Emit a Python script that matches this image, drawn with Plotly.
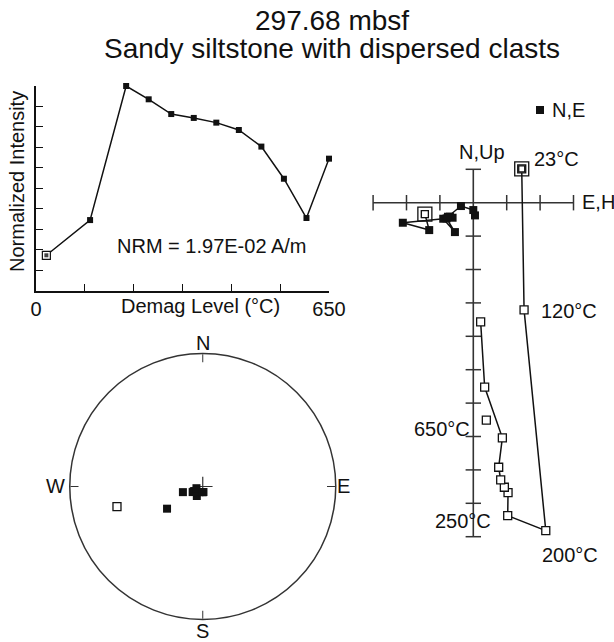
import math
import plotly.graph_objects as go

W, H = 614, 642
FONT = "Liberation Sans, Arial, Helvetica, sans-serif"
INK = "#111111"
AXC = "#333333"

# ---------------- data ----------------
temps = [23, 120, 200, 250, 300, 350, 400, 450, 500, 550, 600, 650]
norm_intensity = [0.173, 0.345, 1.0, 0.935, 0.863, 0.844, 0.821, 0.785, 0.704, 0.547, 0.355, 0.645]

# Zijderveld plot (units of one axis tick)
east = [-1.45, -1.32, -2.11, -0.90, -0.55, -0.80, -0.70, -0.62, -0.76, -0.37, 0.00, 0.05]
north = [-0.34, -0.82, -0.60, -0.48, -0.88, -0.47, -0.42, -0.45, -0.42, -0.10, -0.22, -0.38]
horiz = [1.45, 1.52, 2.17, 1.03, 1.04, 0.93, 0.82, 0.76, 0.87, 0.34, 0.22, 0.39]
up = [1.01, -3.21, -9.82, -9.37, -8.68, -8.52, -8.30, -7.92, -7.04, -5.52, -3.57, -6.51]

zij_labels = {23: "23°C", 120: "120°C", 200: "200°C", 250: "250°C", 650: "650°C"}

h_ticks = [-3, -2, -1, 1, 2, 3]
v_ticks = [-10, -9, -8, -7, -6, -5, -4, -3, -2, -1, 1]
demag_tickvals = [0, 650 / 6, 2 * 650 / 6, 3 * 650 / 6, 4 * 650 / 6, 5 * 650 / 6, 650]
demag_ticktext = ["0", "", "", "", "", "", "650"]
int_tickvals = [0.1, 0.2, 0.3, 0.4, 0.5, 0.6, 0.7, 0.8, 0.9, 1.0]
compass = ["N", "E", "S", "W"]

# stereonet: direction of each step, equal-area projection radius
dec = [math.degrees(math.atan2(e, n)) % 360 for e, n in zip(east, north)]
inc = [math.degrees(math.atan2(-u, math.hypot(e, n))) for e, n, u in zip(east, north, up)]
r_ea = [math.sqrt(2) * math.sin(math.radians(90 - abs(i)) / 2) for i in inc]


def px(x, y):
    return x / W, 1 - y / H


fig = go.Figure()

# ---------------- intensity plot ----------------
fig.add_trace(go.Scatter(x=temps, y=norm_intensity, mode="lines+markers",
                         line=dict(color=INK, width=1.5),
                         marker=dict(symbol="square", size=6, color=INK),
                         cliponaxis=False, xaxis="x", yaxis="y", showlegend=False))
fig.add_trace(go.Scatter(x=temps[:1], y=norm_intensity[:1], mode="markers",
                         marker=dict(symbol="square", size=8, color="white",
                                     line=dict(color=INK, width=1.2)),
                         cliponaxis=False, xaxis="x", yaxis="y", showlegend=False))
fig.add_trace(go.Scatter(x=temps[:1], y=norm_intensity[:1], mode="markers",
                         marker=dict(symbol="square", size=4, color="#444444"),
                         cliponaxis=False, xaxis="x", yaxis="y", showlegend=False))

# ---------------- Zijderveld plot ----------------
ox, oy, S = 473.3, 202.7, 33.4
zx0, zx1, zy0, zy1 = 345, 614, 90, 575
fig.add_trace(go.Scatter(x=[h_ticks[0], h_ticks[-1]], y=[0, 0], mode="lines",
                         line=dict(color=AXC, width=1.6), xaxis="x2", yaxis="y2", showlegend=False))
fig.add_trace(go.Scatter(x=[0, 0], y=[v_ticks[0], v_ticks[-1]], mode="lines",
                         line=dict(color=AXC, width=1.6), xaxis="x2", yaxis="y2", showlegend=False))
fig.add_trace(go.Scatter(x=h_ticks, y=[0] * len(h_ticks), mode="markers",
                         marker=dict(symbol="line-ns", size=11, line=dict(color=AXC, width=1.5)),
                         xaxis="x2", yaxis="y2", showlegend=False))
fig.add_trace(go.Scatter(x=[0] * len(v_ticks), y=v_ticks, mode="markers",
                         marker=dict(symbol="line-ew", size=11, line=dict(color=AXC, width=1.5)),
                         xaxis="x2", yaxis="y2", showlegend=False))

# horizontal projection (N vs E) - solid squares
fig.add_trace(go.Scatter(x=east[:-1], y=north[:-1], mode="lines",
                         line=dict(color=INK, width=1.5), xaxis="x2", yaxis="y2", showlegend=False))
fig.add_trace(go.Scatter(x=east, y=north, mode="markers",
                         marker=dict(symbol="square", size=8, color=INK),
                         xaxis="x2", yaxis="y2", showlegend=False))
# vertical projection (Up vs H) - open squares
fig.add_trace(go.Scatter(x=horiz[:-1], y=up[:-1], mode="lines",
                         line=dict(color=INK, width=1.5), xaxis="x2", yaxis="y2", showlegend=False))
fig.add_trace(go.Scatter(x=horiz, y=up, mode="markers",
                         marker=dict(symbol="square", size=8, color="white",
                                     line=dict(color=INK, width=1.3)),
                         xaxis="x2", yaxis="y2", showlegend=False))
# first step highlight
fig.add_trace(go.Scatter(x=[east[0], horiz[0]], y=[north[0], up[0]], mode="markers",
                         marker=dict(symbol="square-open", size=14, color=INK,
                                     line=dict(color=INK, width=1.3)),
                         xaxis="x2", yaxis="y2", showlegend=False))
fig.add_trace(go.Scatter(x=[east[0]], y=[north[0]], mode="markers",
                         marker=dict(symbol="square", size=7, color="white",
                                     line=dict(color=INK, width=1.3)),
                         xaxis="x2", yaxis="y2", showlegend=False))
fig.add_trace(go.Scatter(x=[horiz[0]], y=[up[0]], mode="markers",
                         marker=dict(symbol="square", size=6, color="white",
                                     line=dict(color=INK, width=1.3)),
                         xaxis="x2", yaxis="y2", showlegend=False))
# legend marker "N,E"
fig.add_trace(go.Scatter(x=[(540 - ox) / S], y=[(oy - 110) / S], mode="markers",
                         marker=dict(symbol="square", size=8, color=INK),
                         xaxis="x2", yaxis="y2", showlegend=False))

# ---------------- stereonet ----------------
fig.add_trace(go.Scatterpolar(r=[0], theta=[0], mode="markers",
                              marker=dict(symbol="cross-thin", size=14,
                                          line=dict(color=AXC, width=1.2)),
                              subplot="polar", showlegend=False))
low_r = [r for r, i in zip(r_ea, inc) if i >= 0]
low_t = [d for d, i in zip(dec, inc) if i >= 0]
up_r = [r for r, i in zip(r_ea, inc) if i < 0]
up_t = [d for d, i in zip(dec, inc) if i < 0]
fig.add_trace(go.Scatterpolar(r=low_r, theta=low_t, mode="markers",
                              marker=dict(symbol="square", size=8, color=INK),
                              subplot="polar", showlegend=False))
fig.add_trace(go.Scatterpolar(r=up_r, theta=up_t, mode="markers",
                              marker=dict(symbol="square", size=8, color="white",
                                          line=dict(color=INK, width=1.3)),
                              subplot="polar", showlegend=False))

# ---------------- layout ----------------
ann = []


def add_text(text, x, y, size=20, xanchor="center", yanchor="middle", angle=0):
    pxx, pyy = px(x, y)
    ann.append(dict(text=text, x=pxx, y=pyy, xref="paper", yref="paper", showarrow=False,
                    xanchor=xanchor, yanchor=yanchor, textangle=angle,
                    font=dict(family=FONT, size=size, color=INK)))


add_text("297.68 mbsf", 332, 21, size=28)
add_text("Sandy siltstone with dispersed clasts", 332, 48, size=28)
add_text("Normalized Intensity", 17, 182, angle=-90)
add_text("NRM = 1.97E-02 A/m", 212, 246)
add_text("Demag Level (°C)", 200, 306)
add_text("N,Up", 457, 152, xanchor="left")
add_text("N,E", 550, 110, xanchor="left")
add_text("E,H", 580, 202, xanchor="left")
add_text(zij_labels[23], 532, 159, xanchor="left")
add_text(zij_labels[120], 539, 311, xanchor="left")
add_text(zij_labels[650], 472, 429, xanchor="right")
add_text(zij_labels[250], 433, 521, xanchor="left")
add_text(zij_labels[200], 540, 555, xanchor="left")
# compass letters around the stereonet
add_text(compass[0], 202.7, 343)
add_text(compass[1], 343, 486)
add_text(compass[2], 202.7, 631)
add_text(compass[3], 55, 486)

fig.update_layout(
    width=W, height=H, autosize=False,
    margin=dict(l=0, r=0, t=0, b=0, pad=0, autoexpand=False),
    paper_bgcolor="white", plot_bgcolor="white",
    font=dict(family=FONT, size=20, color=INK),
    annotations=ann,
    xaxis=dict(domain=[36 / W, 329 / W], range=[0, 650], tickmode="array",
               tickvals=demag_tickvals, ticktext=demag_ticktext, automargin=False,
               ticks="inside", ticklen=7, tickwidth=1.3, tickcolor=INK,
               showline=True, linecolor=INK, linewidth=1.5, showgrid=False, zeroline=False,
               tickfont=dict(size=20, family=FONT, color=INK)),
    yaxis=dict(domain=[1 - 290.7 / H, 1 - 86 / H], range=[0, 1], tickmode="array",
               tickvals=int_tickvals, showticklabels=False, automargin=False,
               ticks="inside", ticklen=7, tickwidth=1.3, tickcolor=INK,
               showline=True, linecolor=INK, linewidth=1.5, showgrid=False, zeroline=False),
    xaxis2=dict(domain=[zx0 / W, zx1 / W], range=[(zx0 - ox) / S, (zx1 - ox) / S],
                visible=False, anchor="y2", automargin=False),
    yaxis2=dict(domain=[1 - zy1 / H, 1 - zy0 / H], range=[(oy - zy1) / S, (oy - zy0) / S],
                visible=False, anchor="x2", automargin=False),
    polar=dict(
        domain=dict(x=[69.5 / W, 336 / W], y=[1 - 619.5 / H, 1 - 353.5 / H]),
        bgcolor="white",
        radialaxis=dict(visible=False, range=[0, 1]),
        angularaxis=dict(rotation=90, direction="clockwise", tickmode="array",
                         tickvals=[0, 90, 180, 270], showticklabels=False,
                         ticks="inside", ticklen=8, tickwidth=1.3, tickcolor=AXC,
                         showgrid=False, showline=True, linecolor=AXC, linewidth=1.5),
    ),
)

fig.write_html("out.html", config={"responsive": False, "displayModeBar": False})
